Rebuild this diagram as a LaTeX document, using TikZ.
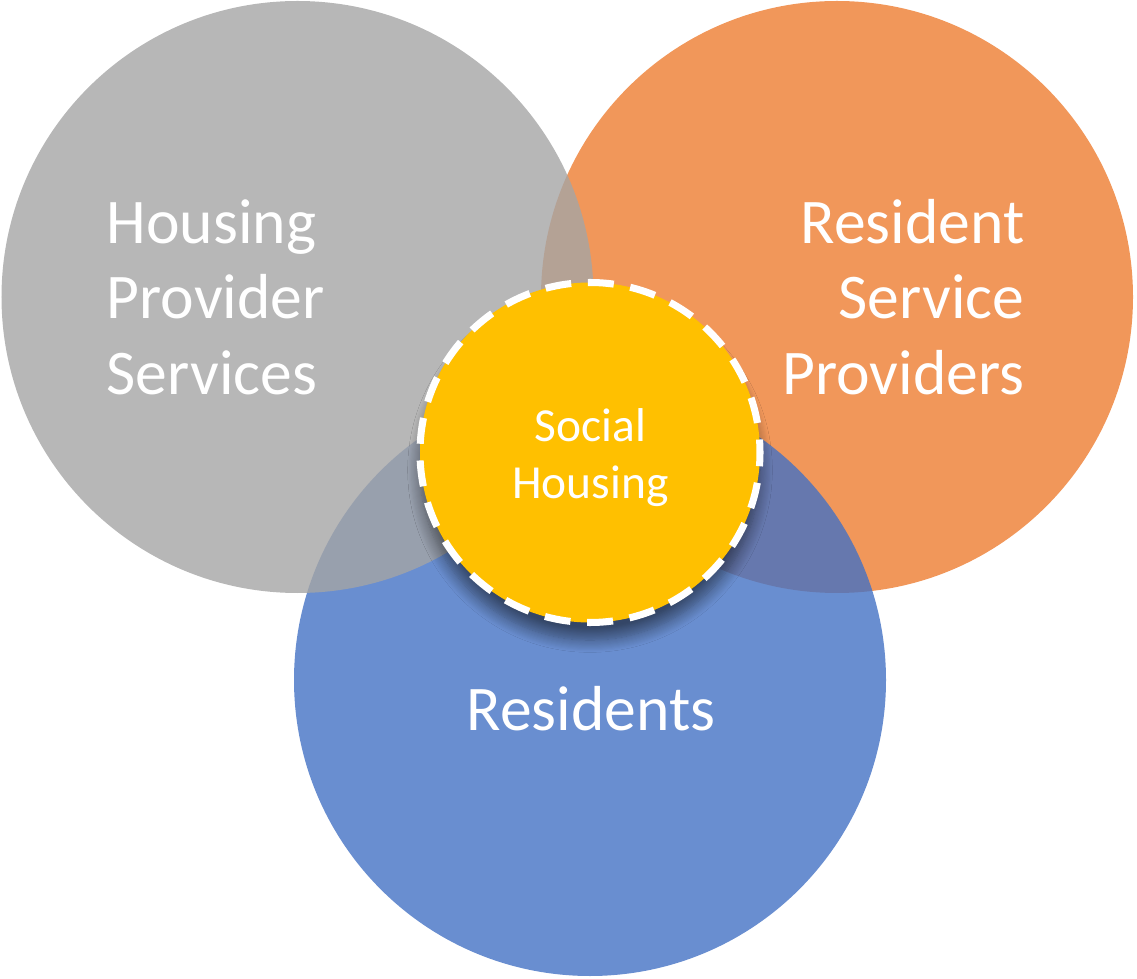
\documentclass[tikz,border=0pt]{standalone}
\usepackage{fontspec}
\setmainfont{Carlito}
\usepackage{tikz}
\usetikzlibrary{shadows.blur}

\definecolor{accgray}{HTML}{A5A5A5}
\definecolor{accorange}{HTML}{ED7D31}
\definecolor{accblue}{HTML}{4472C4}
\definecolor{accgold}{HTML}{FFC000}

\tikzset{
  bigtext/.style={text=white, inner sep=0pt, font=\fontsize{18.1}{21.5}\selectfont},
  smalltext/.style={text=white, inner sep=0pt, align=center, font=\fontsize{13.5}{16.2}\selectfont}
}

\begin{document}
\begin{tikzpicture}
  \useasboundingbox (0,0) rectangle (11.37,9.78);
  \coordinate (cgray) at (2.975,6.81);
  \coordinate (corange) at (8.37,6.81);
  \coordinate (cblue) at (5.90,2.98);
  \coordinate (cgold) at (5.90,5.255);
  % the three groups, see-through
  \foreach \col/\ctr in {accorange/corange, accblue/cblue, accgray/cgray}
    \fill[\col, fill opacity=0.8] (\ctr) circle (2.96);
  % middle
  \fill[accgold, blur shadow={shadow xshift=0pt, shadow yshift=-5pt, shadow blur radius=3.5pt, shadow blur steps=12, shadow opacity=50}] (cgold) circle (1.70);
  \draw[white, line width=2pt, dash pattern=on 0.26cm off 0.167cm, dash phase=0.13cm] (cgold) circle (1.70);

  \node[bigtext, anchor=west, align=left] (hps) at (1.06,6.81) {Housing\\Provider\\Services};
  \node[bigtext, anchor=east, align=right] (rsp) at (10.25,6.81) {Resident\\Service\\Providers};
  \node[bigtext, anchor=base] (res) at (5.91,2.48) {Residents};
  \node[smalltext] (soc) at (5.905,5.205) {Social\\Housing};
\end{tikzpicture}
\end{document}
